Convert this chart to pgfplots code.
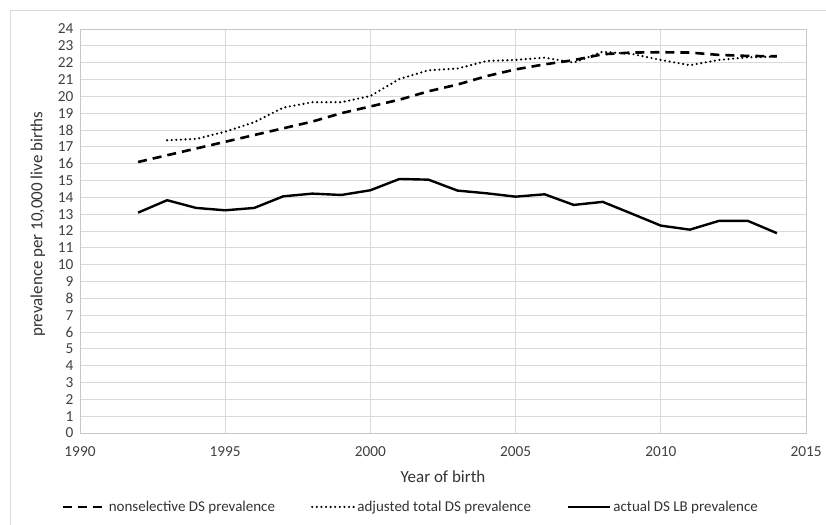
\documentclass[border=0pt]{standalone}
\usepackage{fontspec}
\setmainfont{Carlito}
\usepackage{pgfplots}
\pgfplotsset{compat=1.18}
\begin{document}
\begin{tikzpicture}[font=\fontsize{15}{18}\selectfont]
\begin{axis}[
  scale only axis, width=726pt, height=404pt,
  xmin=1990, xmax=2015, ymin=0, ymax=24,
  xtick={1990,1995,...,2015}, ytick={0,1,...,24},
  /pgf/number format/1000 sep={},
  /pgf/number format/assume math mode=true,
  major tick length=0pt,
  grid=major, grid style={draw=black!15, line width=0.8pt},
  axis line style={draw=black!22, line width=0.8pt},
  tick label style={text=black!75, font=\fontsize{15.3}{18}\selectfont},
  xticklabel style={anchor=center, yshift=-19pt},
  yticklabel style={anchor=east, xshift=-3pt},
  xlabel={Year of birth},
  ylabel={prevalence per 10,000 live births},
  label style={text=black!80, font=\fontsize{17}{20}\selectfont},
  x label style={at={(axis description cs:0.5,-0.109)}, anchor=center},
  y label style={at={(axis description cs:-0.058,0.517)}, anchor=center},
  legend style={at={(axis description cs:0.456,-0.183)}, anchor=center, draw=none, fill=none,
    legend columns=3, /tikz/every even column/.append style={column sep=34pt},
    text=black!80, font=\fontsize{15}{18}\selectfont},
  legend cell align=left,
  legend image code/.code={\draw[#1] (0pt,0pt) -- (42pt,0pt);},
]
\addplot[black, line width=2.6pt, dash pattern=on 9pt off 6pt] coordinates {
(1992,16.1) (1993,16.5) (1994,16.9) (1995,17.3) (1996,17.7) (1997,18.1) (1998,18.5)
(1999,19.0) (2000,19.4) (2001,19.8) (2002,20.3) (2003,20.7) (2004,21.2) (2005,21.6)
(2006,21.9) (2007,22.15) (2008,22.5) (2009,22.6) (2010,22.62) (2011,22.6) (2012,22.46)
(2013,22.4) (2014,22.38)
};
\addlegendentry{nonselective DS prevalence}
\addplot[black, line width=2.4pt, line cap=round, dash pattern=on 0pt off 4.6pt] coordinates {
(1993,17.39) (1994,17.47) (1995,17.9) (1996,18.46) (1997,19.33) (1998,19.65) (1999,19.65)
(2000,20.02) (2001,21.03) (2002,21.55) (2003,21.65) (2004,22.1) (2005,22.16) (2006,22.3)
(2007,22.0) (2008,22.65) (2009,22.52) (2010,22.16) (2011,21.85) (2012,22.16) (2013,22.32)
(2014,22.36)
};
\addlegendentry{adjusted total DS prevalence}
\addplot[black, line width=2.4pt, line join=round] coordinates {
(1992,13.09) (1993,13.83) (1994,13.37) (1995,13.23) (1996,13.37) (1997,14.06) (1998,14.22)
(1999,14.14) (2000,14.42) (2001,15.09) (2002,15.05) (2003,14.40) (2004,14.24) (2005,14.04)
(2006,14.18) (2007,13.55) (2008,13.73) (2009,13.03) (2010,12.32) (2011,12.08) (2012,12.60)
(2013,12.60) (2014,11.87)
};
\addlegendentry{actual DS LB prevalence}
\end{axis}
\draw[black!15, line width=0.8pt] (-70pt,-100pt) -- (-70pt,422.3pt) -- (760pt,422.3pt);
\pgfresetboundingbox
\useasboundingbox (-80pt,-91pt) rectangle (746pt,433pt);
\end{tikzpicture}
\end{document}
